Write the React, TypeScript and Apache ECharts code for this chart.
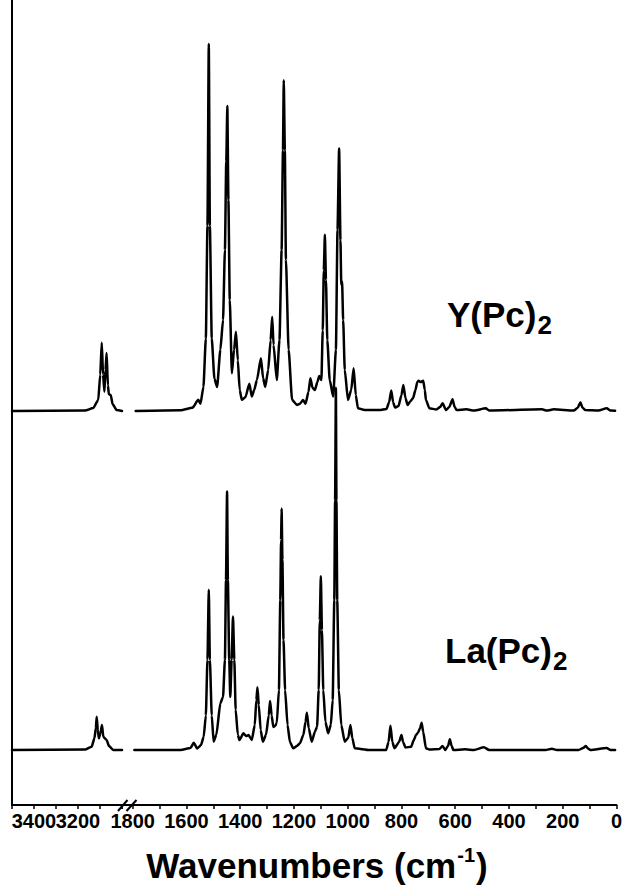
import React, { useEffect, useRef } from 'react';
import * as echarts from 'echarts';

// ---- Data (wavenumber cm-1, relative absorbance) ----
const LEFT_TICK_LABELS = [3400, 3200];
const RIGHT_TICK_LABELS = [1800, 1600, 1400, 1200, 1000, 800, 600, 400, 200, 0];

const Y_OFFSET = 4.894;
const LA_OFFSET = 0.683;

const Y_LEFT: [number, number][] = [
  [3500, 0], [3168, 0.006], [3131, 0.037], [3108, 0.137], [3099, 0.45], [3092, 0.848],
  [3086, 0.45], [3080, 0.24], [3075, 0.51], [3070, 0.72], [3064, 0.32], [3060, 0.21],
  [3051, 0.2], [3043, 0.087], [3024, 0.012], [3000, 0],
];

const Y_RIGHT: [number, number][] = [
  [1789, 0], [1622, 0.01], [1578, 0.04], [1556, 0.14], [1548, 0.09], [1537, 0.3], [1528, 0.9],
  [1522, 2.3], [1517, 4.56], [1513, 2.3], [1506, 0.9], [1496, 0.4], [1486, 0.3], [1474, 0.76],
  [1464, 1.13], [1457, 2.0], [1452, 3.1], [1448, 3.79], [1444, 2.62], [1439, 1.38], [1431, 0.47],
  [1423, 0.76], [1416, 0.985], [1409, 0.63], [1402, 0.26], [1394, 0.14], [1381, 0.17], [1366, 0.34],
  [1357, 0.18], [1348, 0.26], [1338, 0.385], [1323, 0.655], [1315, 0.41], [1307, 0.3], [1296, 0.51],
  [1287, 0.88], [1281, 1.17], [1276, 0.82], [1264, 0.385], [1254, 0.88], [1246, 2.0], [1241, 3.24],
  [1238, 4.11], [1234, 3.24], [1230, 1.88], [1220, 0.76], [1207, 0.14], [1189, 0.075], [1178, 0.09],
  [1166, 0.137], [1157, 0.09], [1146, 0.24], [1139, 0.406], [1131, 0.29], [1122, 0.26], [1113, 0.36],
  [1106, 0.435], [1098, 0.385], [1093, 1.0], [1089, 1.75], [1085, 2.19], [1081, 1.63], [1076, 0.88],
  [1067, 0.385], [1054, 0.18], [1044, 0.76], [1038, 2.25], [1032, 3.26], [1027, 2.12], [1024, 1.57],
  [1021, 1.61], [1017, 1.13], [1011, 0.51], [999, 0.137], [987, 0.26], [978, 0.53], [970, 0.2],
  [962, 0.034], [937, 0.012], [881, 0.012], [856, 0.025], [846, 0.11], [838, 0.255], [831, 0.11],
  [824, 0.043], [811, 0.062], [800, 0.2], [793, 0.323], [785, 0.16], [777, 0.075], [768, 0.116],
  [757, 0.16], [748, 0.26], [741, 0.36], [736, 0.376], [728, 0.36], [719, 0.376], [713, 0.26],
  [709, 0.137], [696, 0.034], [670, 0.02], [656, 0.05], [647, 0.096], [634, 0.012], [622, 0.05],
  [610, 0.145], [602, 0.05], [595, 0.012], [558, 0.021], [530, 0.006], [486, 0.034], [474, 0.006],
  [277, 0.021], [259, 0.006], [233, 0.021], [159, 0.006], [144, 0.04], [134, 0.108], [126, 0.04],
  [116, 0.012], [67, 0.006], [36, 0.034], [22, 0.006], [5, 0.004],
];

const LA_LEFT: [number, number][] = [
  [3500, 0], [3168, 0.006], [3138, 0.041], [3125, 0.15], [3119, 0.27], [3115, 0.414],
  [3110, 0.25], [3105, 0.145], [3098, 0.21], [3091, 0.31], [3085, 0.165], [3080, 0.15],
  [3070, 0.124], [3059, 0.05], [3040, 0], [3000, 0],
];

const LA_RIGHT: [number, number][] = [
  [1794, 0], [1622, 0], [1585, 0.025], [1573, 0.09], [1560, 0.02], [1546, 0.062], [1536, 0.165],
  [1528, 0.43], [1522, 1.12], [1517, 1.99], [1513, 1.12], [1506, 0.43], [1499, 0.103], [1489, 0.19],
  [1474, 0.58], [1464, 0.66], [1457, 1.12], [1453, 2.11], [1449, 3.21], [1446, 2.11], [1441, 1.12],
  [1437, 0.66], [1432, 1.12], [1427, 1.66], [1422, 1.12], [1417, 0.5], [1409, 0.19], [1403, 0.124],
  [1388, 0.207], [1378, 0.174], [1369, 0.186], [1357, 0.124], [1346, 0.31], [1340, 0.62], [1336, 0.78],
  [1331, 0.56], [1324, 0.25], [1316, 0.103], [1304, 0.19], [1294, 0.43], [1289, 0.61], [1283, 0.43],
  [1277, 0.286], [1270, 0.3], [1264, 0.335], [1256, 0.745], [1251, 1.86], [1248, 2.61], [1246, 3.0],
  [1243, 2.36], [1239, 1.37], [1233, 0.745], [1224, 0.31], [1215, 0.1], [1203, 0.021], [1189, 0.05],
  [1178, 0.083], [1165, 0.186], [1157, 0.35], [1152, 0.463], [1145, 0.27], [1134, 0.103], [1122, 0.227],
  [1114, 0.29], [1108, 0.745], [1104, 1.61], [1100, 2.16], [1096, 1.49], [1091, 0.745], [1083, 0.35],
  [1073, 0.207], [1063, 0.31], [1056, 0.62], [1050, 1.86], [1047, 3.1], [1044, 4.5], [1042, 3.1],
  [1039, 1.86], [1033, 0.745], [1024, 0.31], [1011, 0.103], [998, 0.15], [990, 0.31], [983, 0.15],
  [974, 0.021], [919, 0], [857, 0], [848, 0.1], [841, 0.3], [834, 0.1], [826, 0.021], [809, 0.1],
  [800, 0.186], [794, 0.1], [785, 0.031], [764, 0.041], [754, 0.124], [746, 0.186], [739, 0.21],
  [731, 0.27], [725, 0.34], [719, 0.224], [709, 0.021], [696, 0.006], [659, 0.012], [647, 0.05],
  [637, 0], [627, 0.05], [620, 0.133], [613, 0.05], [607, 0], [563, 0.009], [530, 0], [493, 0.034],
  [474, 0], [264, 0], [240, 0.016], [222, 0], [141, 0], [124, 0.025], [114, 0.05], [106, 0.019],
  [97, 0], [36, 0.025], [22, 0], [5, 0],
];

const FONT = "'Liberation Sans', Arial, Helvetica, sans-serif";

function textWidth(text: string, font: string): number {
  const ctx = document.createElement('canvas').getContext('2d');
  if (!ctx) return text.length * 18;
  ctx.font = font;
  return ctx.measureText(text).width;
}

function txt(text: string, x: number, y: number, size: number) {
  return {
    type: 'text',
    x,
    y,
    silent: true,
    style: {
      text,
      font: `bold ${size}px ${FONT}`,
      fill: '#000',
      align: 'left',
      verticalAlign: 'middle',
      textAlign: 'left',
      textVerticalAlign: 'middle',
    },
  };
}

export default function App() {
  const ref = useRef<HTMLDivElement>(null);

  useEffect(() => {
    if (!ref.current) return;
    const chart = echarts.init(ref.current, null, { renderer: 'svg' });

    const axisCommon = {
      type: 'value' as const,
      inverse: true,
      interval: 100,
      axisLine: { show: true, lineStyle: { color: '#000', width: 2 } },
      axisTick: { show: true, length: 4, lineStyle: { color: '#000', width: 1.5 } },
      splitLine: { show: false },
    };
    const labelCommon = {
      margin: 6,
      color: '#000',
      fontSize: 20,
      fontWeight: 'bold' as const,
      fontFamily: FONT,
    };

    const mainSize = 35;
    const subSize = 26;
    const yMainW = textWidth('Y(Pc)', `bold ${mainSize}px ${FONT}`);
    const laMainW = textWidth('La(Pc)', `bold ${mainSize}px ${FONT}`);

    const titleSize = 35;
    const supSize = 20;
    const t1 = 'Wavenumbers (cm';
    const t2 = '-1';
    const t3 = ')';
    const w1 = textWidth(t1, `bold ${titleSize}px ${FONT}`);
    const w2 = textWidth(t2, `bold ${supSize}px ${FONT}`);
    const w3 = textWidth(t3, `bold ${titleSize}px ${FONT}`);
    const total = w1 + w2 + w3 + 2;
    const tx = 317 - total / 2;

    const mk = (arr: [number, number][], off: number) => arr.map(([w, v]) => [w, v + off]);
    const lineSeries = (name: string, data: number[][], gi: number) => ({
      name,
      type: 'line',
      xAxisIndex: gi,
      yAxisIndex: gi,
      data,
      showSymbol: false,
      symbol: 'none',
      silent: true,
      smooth: 0.2,
      smoothMonotone: 'x',
      lineStyle: { color: '#000', width: 2.5, join: 'round', cap: 'round' },
    });

    chart.setOption({
      animation: false,
      backgroundColor: '#fff',
      grid: [
        { left: 12, top: 0, width: 110, height: 805 },
        { left: 122, top: 0, width: 496, height: 805 },
      ],
      xAxis: [
        {
          ...axisCommon,
          gridIndex: 0,
          min: 3000,
          max: 3500,
          axisLabel: {
            ...labelCommon,
            formatter: (v: number) => (LEFT_TICK_LABELS.includes(v) ? String(v) : ''),
          },
        },
        {
          ...axisCommon,
          gridIndex: 1,
          min: 0,
          max: 1840,
          axisLabel: {
            ...labelCommon,
            formatter: (v: number) => (RIGHT_TICK_LABELS.includes(v) ? String(v) : ''),
          },
        },
      ],
      yAxis: [
        {
          type: 'value',
          gridIndex: 0,
          min: 0,
          max: 10,
          axisLine: { show: true, lineStyle: { color: '#000', width: 2 } },
          axisTick: { show: false },
          axisLabel: { show: false },
          splitLine: { show: false },
        },
        { type: 'value', gridIndex: 1, min: 0, max: 10, show: false, splitLine: { show: false } },
      ],
      series: [
        lineSeries('Y(Pc)2 high', mk(Y_LEFT, Y_OFFSET), 0),
        lineSeries('La(Pc)2 high', mk(LA_LEFT, LA_OFFSET), 0),
        lineSeries('Y(Pc)2', mk(Y_RIGHT, Y_OFFSET), 1),
        lineSeries('La(Pc)2', mk(LA_RIGHT, LA_OFFSET), 1),
      ],
      graphic: [
        { type: 'line', silent: true, shape: { x1: 118, y1: 811, x2: 127.5, y2: 800 }, style: { stroke: '#000', lineWidth: 2 } },
        { type: 'line', silent: true, shape: { x1: 126.5, y1: 811, x2: 136.5, y2: 800 }, style: { stroke: '#000', lineWidth: 2 } },
        txt('Y(Pc)', 447, 314, mainSize),
        txt('2', 447 + yMainW + 1, 325, subSize),
        txt('La(Pc)', 445, 650, mainSize),
        txt('2', 445 + laMainW + 1, 661, subSize),
        txt(t1, tx, 865.5, titleSize),
        txt(t2, tx + w1 + 1, 855, supSize),
        txt(t3, tx + w1 + w2 + 2, 865.5, titleSize),
      ],
    });

    return () => chart.dispose();
  }, []);

  return (
    <div
      ref={ref}
      style={{ position: 'fixed', left: 0, top: 0, width: 625, height: 891, background: '#fff' }}
    />
  );
}
